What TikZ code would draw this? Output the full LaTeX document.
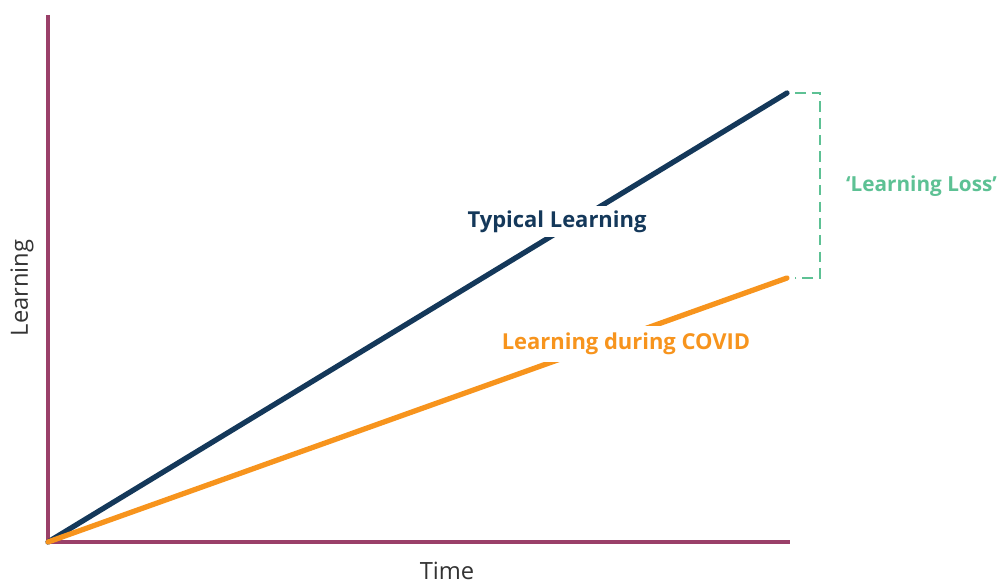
\documentclass[tikz,border=0pt]{standalone}
\usepackage{fontspec}
\setmainfont{Open Sans}
\definecolor{axiscol}{HTML}{9A4069}
\definecolor{navy}{HTML}{14385A}
\definecolor{amber}{HTML}{F7941D}
\definecolor{mint}{HTML}{5DC194}
\begin{document}
\begin{tikzpicture}[x=0.02cm, y=-0.02cm,
  axis/.style={draw=axiscol, line width=2.2pt},
  trend/.style={line width=3pt, line cap=round},
  tag/.style={fill=white, inner xsep=3pt, inner ysep=3pt, font=\bfseries\fontsize{12.5}{14}\selectfont}]
\useasboundingbox (0,0) rectangle (1003,584);

% Axes
\coordinate (O) at (48,542);
\coordinate (ytop) at (48,15);
\coordinate (xend) at (790,542);
\draw[axis] (ytop) -- (O) -- (xend);
\node[font=\fontsize{13.5}{15}\selectfont, text=black!80] (time) at (447,571) {Time};
\node[font=\fontsize{13.5}{15}\selectfont, text=black!80, rotate=90] (learn) at (22,288) {Learning};

% Trend lines
\coordinate (typend) at (787,93);
\coordinate (covend) at (787,278);
\draw[trend, navy] (O) -- (typend);
\draw[trend, amber] (O) -- (covend);

% Labels over the lines
\node[tag, text=navy, inner ysep=2.6pt] (typical) at (557,221.5) {Typical Learning};
\node[tag, text=amber, inner ysep=4.2pt] (covid) at (626,344) {Learning during COVID};

% Gap bracket
\coordinate (btop) at (795,93);
\coordinate (bbot) at (795,278);
\draw[mint, line width=1.2pt, dash pattern=on 6pt off 3.5pt] (btop) -- (820,93) -- (820,278) -- (bbot);
\node[font=\bfseries\fontsize{11.8}{14}\selectfont, text=mint, anchor=west] (loss) at (840,186) {‘Learning Loss’};
\end{tikzpicture}
\end{document}
